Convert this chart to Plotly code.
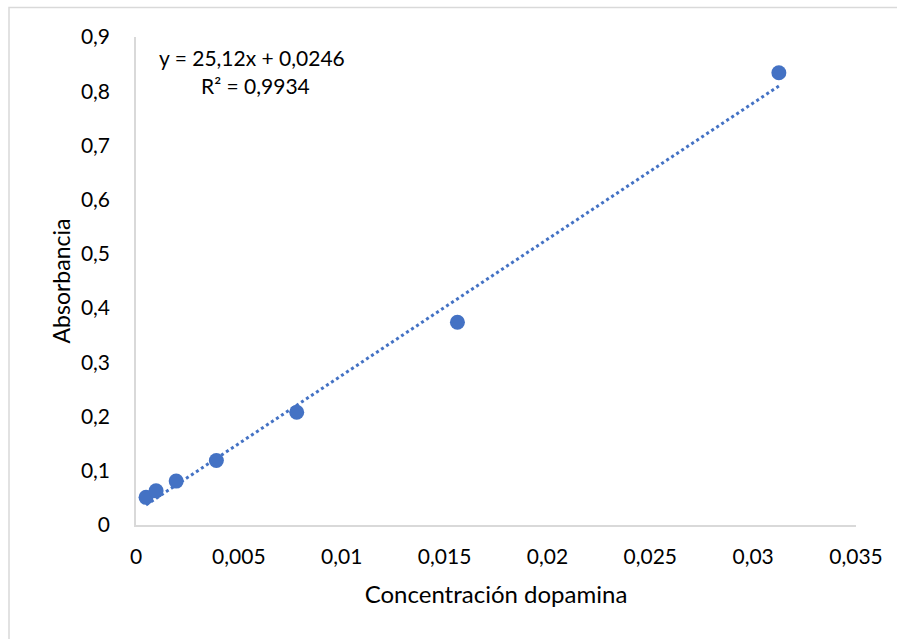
import plotly.graph_objects as go

# Data
concentracion = [0.00048828, 0.00097656, 0.00195313, 0.00390625, 0.0078125, 0.015625, 0.03125]
absorbancia = [0.051, 0.063, 0.081, 0.119, 0.208, 0.374, 0.834]
pendiente = 25.12
intercepto = 0.0246
ecuacion = "y = 25,12x + 0,0246"
r2_texto = "R² = 0,9934"

x_tickvals = [0, 0.005, 0.01, 0.015, 0.02, 0.025, 0.03, 0.035]
x_ticktext = ["0", "0,005", "0,01", "0,015", "0,02", "0,025", "0,03", "0,035"]
y_tickvals = [0, 0.1, 0.2, 0.3, 0.4, 0.5, 0.6, 0.7, 0.8, 0.9]
y_ticktext = ["0", "0,1", "0,2", "0,3", "0,4", "0,5", "0,6", "0,7", "0,8", "0,9"]

color = "#4472C4"
font_family = "Lato, 'Open Sans', sans-serif"

x_tr = [min(concentracion), max(concentracion)]
y_tr = [pendiente * v + intercepto for v in x_tr]

fig = go.Figure()
fig.add_trace(go.Scatter(x=x_tr, y=y_tr, mode="lines",
                         line=dict(color=color, width=3, dash="dot"),
                         hoverinfo="skip", showlegend=False))
fig.add_trace(go.Scatter(x=concentracion, y=absorbancia, mode="markers",
                         marker=dict(color=color, size=15),
                         showlegend=False))

W, H = 897, 639
L, R, T, B = 136, 41, 37, 114
pw, ph = W - L - R, H - T - B

def px_to_paper_x(px):
    return (px - L) / pw

def px_to_paper_y(py):
    return (H - B - py) / ph

fig.update_layout(
    width=W, height=H,
    margin=dict(l=L, r=R, t=T, b=B),
    paper_bgcolor="white", plot_bgcolor="white",
    font=dict(family=font_family, size=21, color="#000000"),
    separators=", ",
    xaxis=dict(range=[0, 0.035], tickvals=x_tickvals, ticktext=x_ticktext,
               showgrid=False, zeroline=False, showline=True, linecolor="#d9d9d9",
               linewidth=1.5, ticks="", ticklabelstandoff=12,
               title=dict(text="Concentración dopamina", font=dict(size=24), standoff=19)),
    yaxis=dict(range=[0, 0.9], tickvals=y_tickvals, ticktext=y_ticktext,
               showgrid=False, zeroline=False, showline=True, linecolor="#d9d9d9",
               linewidth=1.5, ticks="", ticklabelstandoff=20,
               title=dict(text="Absorbancia", font=dict(size=23), standoff=4)),
    shapes=[dict(type="rect", xref="paper", yref="paper",
                 x0=px_to_paper_x(9), x1=px_to_paper_x(W + 20),
                 y0=px_to_paper_y(H + 20), y1=px_to_paper_y(7.5),
                 line=dict(color="#d9d9d9", width=1.5), fillcolor="rgba(0,0,0,0)",
                 layer="below")],
    annotations=[
        dict(text=ecuacion, xref="paper", yref="paper",
             x=px_to_paper_x(252), y=px_to_paper_y(57), xanchor="center", yanchor="middle",
             showarrow=False, font=dict(size=21)),
        dict(text=r2_texto, xref="paper", yref="paper",
             x=px_to_paper_x(255), y=px_to_paper_y(86), xanchor="center", yanchor="middle",
             showarrow=False, font=dict(size=21)),
    ],
)

fig.write_html("out.html")
